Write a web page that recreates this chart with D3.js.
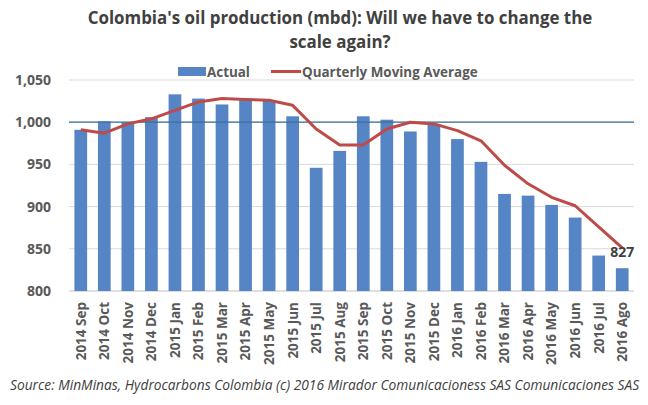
<!DOCTYPE html>
<html><head><meta charset="utf-8">
<script src="https://cdn.jsdelivr.net/npm/d3@7"></script>
<style>body{margin:0;background:#fff}svg{display:block}</style>
</head><body>
<svg id="c" width="648" height="405"></svg>
<script>
const categories = ["2014 Sep","2014 Oct","2014 Nov","2014 Dec","2015 Jan","2015 Feb","2015 Mar","2015 Apr","2015 May","2015 Jun","2015 Jul","2015 Aug","2015 Sep","2015 Oct","2015 Nov","2015 Dec","2016 Jan","2016 Feb","2016 Mar","2016 Apr","2016 May","2016 Jun","2016 Jul","2016 Ago"];
const actual = [991,1001,1000,1006,1033,1028,1021,1027,1026,1007,946,966,1007,1003,989,998,980,953,915,913,902,887,842,827];
const movingAvg = [991,987,998,1004,1014,1024,1028,1027,1026,1020,992,973,973,992,1000,998,990,978,949,927,911,901,876,851];
const yTicks = [800,850,900,950,1000,1050];
const titleLines = ["Colombia's oil production (mbd): Will we have to change the","scale again?"];
const sourceText = "Source: MinMinas, Hydrocarbons Colombia (c) 2016 Mirador Comunicacioness SAS Comunicaciones SAS";

const svg = d3.select("#c");
const m = {l:69, r:634, t:80, b:291};
const x = d3.scaleBand().domain(categories).range([m.l, m.r]).paddingInner(0.46).paddingOuter(0.23);
const y = d3.scaleLinear().domain([800,1050]).range([m.b, m.t]);
const font = "'Open Sans', 'Liberation Sans', Arial, sans-serif";
const txt = "#595959";

function fit(sel, target){
  sel.each(function(){
    const w = this.getComputedTextLength();
    const fs = parseFloat(d3.select(this).attr("font-size"));
    if (w>0) d3.select(this).attr("font-size", fs*target/w);
  });
}

// gridlines
svg.append("g").selectAll("line").data(yTicks).join("line")
  .attr("x1", m.l).attr("x2", m.r).attr("y1", d=>y(d)).attr("y2", d=>y(d))
  .attr("stroke", d=> d===800 ? "#bfbfbf" : "#d9d9d9").attr("stroke-width",1);

// y axis labels
const yAxis = d3.axisLeft(y).tickValues(yTicks).tickSize(0).tickPadding(0).tickFormat(d3.format(","));
const ya = svg.append("g").attr("transform",`translate(${m.l-18},0)`).call(yAxis);
ya.select(".domain").remove();
ya.selectAll("text").attr("font-family",font).attr("font-weight","bold").attr("font-size",14).attr("fill",txt);

// bars
svg.append("g").selectAll("rect").data(actual).join("rect")
  .attr("x",(d,i)=>x(categories[i])).attr("width",x.bandwidth())
  .attr("y",d=>y(d)).attr("height",d=>y(800)-y(d)).attr("fill","#5585c5");

// 1000 reference line
svg.append("line").attr("x1",m.l).attr("x2",m.r).attr("y1",y(1000)).attr("y2",y(1000))
  .attr("stroke","#3b6e99").attr("stroke-width",1.3);

// moving average line
const line = d3.line().x((d,i)=>x(categories[i])+x.bandwidth()/2).y(d=>y(d));
svg.append("path").datum(movingAvg).attr("d",line).attr("fill","none")
  .attr("stroke","#be4b48").attr("stroke-width",3).attr("stroke-linejoin","round");

// last value label
const last = categories.length-1;
svg.append("text").attr("x",x(categories[last])+x.bandwidth()/2).attr("y",y(movingAvg[last])+9)
  .attr("text-anchor","middle").attr("font-family",font).attr("font-weight","bold").attr("font-size",14)
  .attr("fill","#404040").text(actual[last]);

// x axis labels
const xAxis = d3.axisBottom(x).tickSize(0).tickPadding(0);
const xa = svg.append("g").attr("transform",`translate(0,${m.b})`).call(xAxis);
xa.select(".domain").remove();
xa.selectAll("text").attr("font-family",font).attr("font-weight","bold").attr("font-size",13.5).attr("fill",txt)
  .attr("transform","rotate(-90)").attr("text-anchor","end").attr("x",-11).attr("y",0).attr("dy","0.36em");

// title
const tt = svg.append("g").selectAll("text").data(titleLines).join("text")
  .attr("x",340).attr("y",(d,i)=>24+i*24).attr("text-anchor","middle")
  .attr("font-family",font).attr("font-weight","bold").attr("font-size",16).attr("fill","#404040").text(d=>d);
const t0 = tt.filter((d,i)=>i===0);
fit(t0, 505);
tt.filter((d,i)=>i===1).attr("font-size", t0.attr("font-size"));

// legend
const lg = svg.append("g");
lg.append("rect").attr("x",178).attr("y",67).attr("width",28).attr("height",9).attr("fill","#5585c5");
const la = lg.append("text").attr("x",207).attr("y",77).attr("font-family",font).attr("font-weight","bold").attr("font-size",13).attr("fill",txt).text("Actual");
lg.append("line").attr("x1",271).attr("x2",301).attr("y1",71.5).attr("y2",71.5).attr("stroke","#be4b48").attr("stroke-width",3);
const lq = lg.append("text").attr("x",302).attr("y",77).attr("font-family",font).attr("font-weight","bold").attr("font-size",13).attr("fill",txt).text("Quarterly Moving Average");
fit(lq, 176);
la.attr("font-size", lq.attr("font-size"));

// source
const src = svg.append("text").attr("x",10).attr("y",390).attr("font-family",font).attr("font-style","italic")
  .attr("font-size",12).attr("fill","#404040").text(sourceText);
fit(src, 630);
</script>
</body></html>
